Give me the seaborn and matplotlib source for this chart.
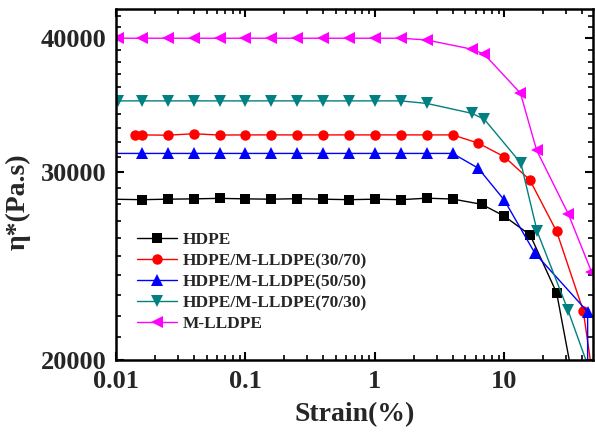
import matplotlib
matplotlib.use("Agg")
import matplotlib.pyplot as plt
import matplotlib.ticker as mticker
import seaborn as sns
import numpy as np

# ---- data ----
hdpe_x = [0.0063, 0.0158, 0.0251, 0.0398, 0.0631, 0.1, 0.158, 0.251, 0.398, 0.631,
          1.0, 1.58, 2.51, 3.98, 6.67, 9.91, 15.8, 25.3, 40.0]
hdpe_y = [28300, 28250, 28280, 28300, 28330, 28300, 28280, 28310, 28280, 28250,
          28280, 28250, 28340, 28290, 27970, 27280, 26180, 23110, 17200]

b3070_x = [0.0141, 0.0158, 0.0251, 0.0398, 0.0631, 0.1, 0.158, 0.251, 0.398, 0.631,
           1.0, 1.58, 2.51, 3.98, 6.28, 9.96, 15.7, 25.3, 40.6, 48.0]
b3070_y = [32480, 32480, 32460, 32560, 32470, 32480, 32480, 32480, 32480, 32480,
           32480, 32480, 32480, 32480, 31910, 30990, 29480, 26380, 22240, 19300]

b5050_x = [0.0063, 0.0158, 0.0251, 0.0398, 0.0631, 0.1, 0.158, 0.251, 0.398, 0.631,
           1.0, 1.58, 2.51, 3.98, 6.28, 9.96, 17.2, 43.9, 44.0]
b5050_y = [31210, 31210, 31210, 31210, 31210, 31210, 31210, 31210, 31210, 31210,
           31210, 31210, 31210, 31210, 30230, 28230, 25170, 22190, 15000]

b7030_x = [0.0104, 0.0158, 0.0251, 0.0398, 0.0631, 0.1, 0.158, 0.251, 0.398, 0.631,
           1.0, 1.58, 2.51, 5.58, 6.98, 13.4, 17.9, 30.9, 48.0]
b7030_y = [34950, 34950, 34950, 34950, 34950, 34950, 34950, 34950, 34950, 34950,
           34950, 34950, 34760, 34030, 33600, 30560, 26380, 22280, 19200]

mlldpe_x = [0.0104, 0.0158, 0.0251, 0.0398, 0.0631, 0.1, 0.158, 0.251, 0.398, 0.631,
            1.0, 1.58, 2.51, 5.58, 6.98, 13.3, 17.7, 31.1, 47.0]
mlldpe_y = [40000, 40000, 40000, 40000, 40000, 40000, 40000, 40000, 40000, 40000,
            40000, 40000, 39850, 39070, 38650, 35530, 31440, 27400, 24190]

labels = ["HDPE", "HDPE/M-LLDPE(30/70)", "HDPE/M-LLDPE(50/50)",
          "HDPE/M-LLDPE(70/30)", "M-LLDPE"]
x_ticks = [0.01, 0.1, 1, 10]
y_ticks = [20000, 30000, 40000]

series = [
    (hdpe_x, hdpe_y, "#000000", "s", 6.5),
    (b3070_x, b3070_y, "#ff0000", "o", 7.5),
    (b5050_x, b5050_y, "#0000ff", "^", 8),
    (b7030_x, b7030_y, "#008080", "v", 8),
    (mlldpe_x, mlldpe_y, "#ff00ff", "<", 8),
]

sns.set_style("ticks")
plt.rcParams["font.family"] = ["Liberation Serif", "DejaVu Serif"]
plt.rcParams["font.weight"] = "bold"
plt.rcParams["axes.labelweight"] = "bold"

fig = plt.figure(figsize=(5.95, 4.33), dpi=100)
ax = fig.add_axes([116 / 595, 73 / 433, 477 / 595, 351 / 433])

for (xs, ys, col, mk, ms), lab in zip(series, labels):
    sns.lineplot(x=xs, y=ys, ax=ax, color=col, marker=mk, markersize=ms,
                 markeredgewidth=0, linewidth=1.0, label=lab,
                 estimator=None, sort=False)

ax.set_xscale("log")
ax.set_yscale("log")
ax.set_xlim(0.01, 48.3)
ax.set_ylim(20000, 42600)

ax.xaxis.set_major_locator(mticker.FixedLocator(x_ticks))
ax.xaxis.set_major_formatter(mticker.FuncFormatter(lambda v, p: "%g" % v))
ax.xaxis.set_minor_locator(mticker.LogLocator(base=10, subs=np.arange(2, 10)))
ax.xaxis.set_minor_formatter(mticker.NullFormatter())

ax.yaxis.set_major_locator(mticker.FixedLocator(y_ticks))
ax.yaxis.set_major_formatter(mticker.FuncFormatter(lambda v, p: "%d" % v))
ax.yaxis.set_minor_locator(mticker.FixedLocator(
    [v for v in range(21000, 43000, 1000) if v not in y_ticks]))
ax.yaxis.set_minor_formatter(mticker.NullFormatter())

for s in ax.spines.values():
    s.set_visible(True)
    s.set_linewidth(1.8)
    s.set_color("black")

ax.tick_params(which="both", direction="in", top=True, right=True, color="black")
ax.tick_params(which="major", length=6, width=1.5, pad=7, labelsize=19)
ax.tick_params(which="minor", length=3.5, width=1.2)
for lbl in ax.get_xticklabels() + ax.get_yticklabels():
    lbl.set_fontweight("bold")

ax.set_xlabel("Strain(%)", fontsize=20, fontweight="bold")
ax.set_ylabel("η*(Pa.s)", fontsize=20, fontweight="bold")
ax.xaxis.set_label_coords(0.5, -0.12)
ax.yaxis.set_label_coords(-0.18, 0.45)

leg = ax.legend(loc="upper left", bbox_to_anchor=(0.045, 0.365), frameon=False,
                handlelength=2.3, handletextpad=0.3,
                labelspacing=0.28, borderpad=0, borderaxespad=0,
                prop={"weight": "bold", "size": 12.5})

fig.savefig("out.png", dpi=100)
